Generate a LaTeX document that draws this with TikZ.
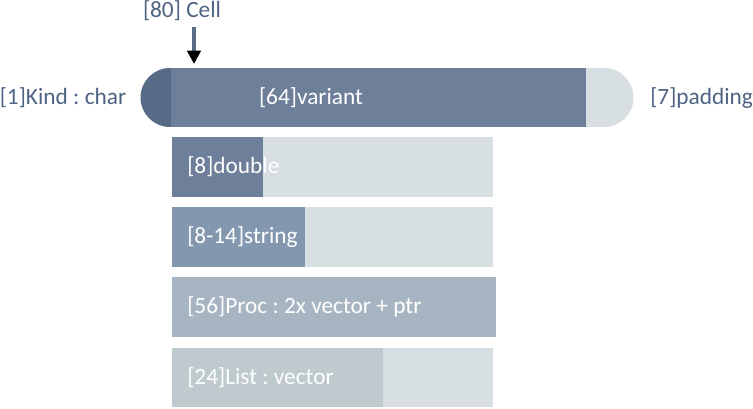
\documentclass[tikz,border=0pt]{standalone}
\usepackage{fontspec}
\setmainfont{Carlito}
\usepackage{tikz}
\usetikzlibrary{positioning, calc, arrows.meta}
\definecolor{labeltext}{RGB}{78,99,130}
\definecolor{kindcap}{RGB}{87,106,134}
\definecolor{variantc}{RGB}{110,127,154}
\definecolor{padc}{RGB}{216,223,226}
\definecolor{stringc}{RGB}{131,152,175}
\definecolor{procc}{RGB}{167,181,194}
\definecolor{listc}{RGB}{191,202,207}
\frenchspacing

\tikzset{
  sidelabel/.style={text=labeltext, inner sep=0pt, font=\fontsize{17.5}{20}\selectfont},
  barlabel/.style={text=white, inner sep=0pt, anchor=west, font=\fontsize{17.5}{20}\selectfont},
}

\begin{document}
\begin{tikzpicture}[x=0.75pt, y=-0.75pt]
    \useasboundingbox (0,0) rectangle (753,409);

    % Cell pill
    \fill[kindcap] (171,68) -- (170,68) arc (270:90:29.5) -- (171,127) -- cycle;
    \fill[variantc] (171,68) rectangle (586,127);
    \fill[padc] (586,68) -- (604,68) arc (270:450:29.5) -- (586,127) -- cycle;
    \node[barlabel, anchor=center] (variant) at (311,98) {[64]variant};
    \node[sidelabel, anchor=center] (kind) at (63,98) {[1]Kind : char};
    \node[sidelabel, anchor=west] (padding) at (650,98) {[7]padding};

    % Cell label and arrow
    \node[sidelabel] (cell) at (182,11) {[80] Cell};
    \coordinate (arrowtop) at (194,27);
    \coordinate (arrowend) at (194,64);
    \draw[kindcap, line width=3.5pt, -{Triangle[black, length=10pt, width=10pt]}] (arrowtop) -- (arrowend);

    % double
    \fill[padc] (172,137) rectangle (493,197);
    \fill[variantc] (172,137) rectangle (263,197);
    \node[barlabel] (double) at (187,167) {[8]double};

    % string
    \fill[padc] (172,207) rectangle (493,267);
    \fill[stringc] (172,207) rectangle (305,267);
    \node[barlabel] (string) at (187,237) {[8-14]string};

    % Proc
    \fill[procc] (172,277) rectangle (496,337);
    \node[barlabel] (proc) at (187,307) {[56]Proc : 2x vector + ptr};

    % List
    \fill[padc] (172,348) rectangle (493,407);
    \fill[listc] (172,348) rectangle (383,407);
    \node[barlabel] (list) at (187,378) {[24]List : vector};
\end{tikzpicture}
\end{document}
